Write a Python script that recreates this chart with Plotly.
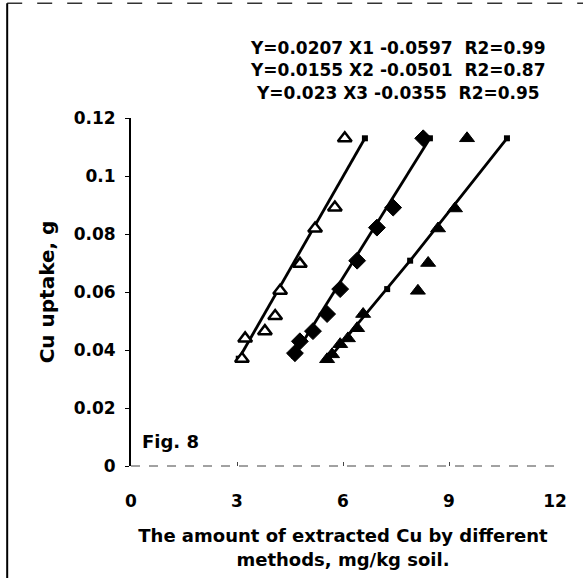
import plotly.graph_objects as go

# ---- data ----
s1_x = [3.14, 3.23, 3.79, 4.08, 4.22, 4.78, 5.21, 5.77, 6.05]
s1_y = [0.037, 0.044, 0.0465, 0.0517, 0.0604, 0.0697, 0.0819, 0.0891, 0.113]

s2_x = [4.64, 4.78, 5.15, 5.55, 5.92, 6.40, 6.96, 7.42, 8.27]
s2_y = [0.0389, 0.043, 0.0465, 0.0524, 0.061, 0.0708, 0.0822, 0.0891, 0.113]

s3_x = [5.55, 5.69, 5.92, 6.14, 6.40, 6.57, 8.12, 8.41, 8.69, 9.17, 9.51]
s3_y = [0.0368, 0.0385, 0.042, 0.044, 0.0475, 0.0524, 0.0604, 0.070, 0.0819, 0.0888, 0.113]

fit1_x = [3.05, 6.62]
fit1_y = [0.037, 0.113]
fit2_x = [4.62, 8.46]
fit2_y = [0.038, 0.113]
fit3_x = [5.6, 7.25, 7.9, 10.64]
fit3_y = [0.037, 0.061, 0.0708, 0.113]

equations = [
    "Y=0.0207 X1 -0.0597  R2=0.99",
    "Y=0.0155 X2 -0.0501  R2=0.87",
    "Y=0.023 X3 -0.0355  R2=0.95",
]
x_ticks = [0, 3, 6, 9, 12]
y_ticks = [0, 0.02, 0.04, 0.06, 0.08, 0.1, 0.12]
y_tick_text = ["0", "0.02", "0.04", "0.06", "0.08", "0.1", "0.12"]

FONT = "DejaVu Sans"

fig = go.Figure()

for fx, fy in [(fit1_x, fit1_y), (fit2_x, fit2_y), (fit3_x, fit3_y)]:
    fig.add_trace(go.Scatter(
        x=fx, y=fy, mode="lines+markers",
        line=dict(color="black", width=2.8),
        marker=dict(symbol="square", size=6, color="black"),
        showlegend=False, hoverinfo="skip"))

fig.add_trace(go.Scatter(
    x=s1_x, y=s1_y, mode="markers", showlegend=False,
    marker=dict(symbol="triangle-up", size=12, color="white",
                line=dict(color="black", width=2.5))))
fig.add_trace(go.Scatter(
    x=s2_x, y=s2_y, mode="markers", showlegend=False,
    marker=dict(symbol="diamond", size=13, color="black",
                line=dict(color="black", width=1))))
fig.add_trace(go.Scatter(
    x=s3_x, y=s3_y, mode="markers", showlegend=False,
    marker=dict(symbol="triangle-up", size=13, color="black",
                line=dict(color="black", width=1))))

eq_y = [1.20, 1.137, 1.071]
for txt, yy in zip(equations, eq_y):
    fig.add_annotation(text=txt, x=7.56, xref="x", y=yy, yref="paper",
                       showarrow=False, xanchor="center", yanchor="middle",
                       font=dict(family=FONT, size=17, color="black", weight="bold"))

fig.add_annotation(text="Fig. 8", x=0.25, xref="x", y=0.0085, yref="y",
                   showarrow=False, xanchor="left", yanchor="middle",
                   font=dict(family=FONT, size=18, color="black", weight="bold"))

# x axis drawn as a faint broken line (as in the scan)
fig.add_shape(type="line", xref="paper", yref="paper", x0=0, x1=1, y0=0, y1=0,
              line=dict(color="#444", width=1, dash="dash"))
# page frame
fig.add_shape(type="line", xref="paper", yref="paper", x0=-0.292, x1=1.07,
              y0=1.33, y1=1.33, line=dict(color="#333", width=1.5, dash="longdash"))
fig.add_shape(type="line", xref="paper", yref="paper", x0=-0.292, x1=-0.292,
              y0=1.33, y1=-0.33, line=dict(color="black", width=2))

fig.update_layout(
    width=583, height=578,
    margin=dict(l=131, r=28, t=118, b=112),
    paper_bgcolor="white", plot_bgcolor="white",
    font=dict(family=FONT, color="black", size=17, weight="bold"),
    xaxis=dict(range=[0, 12], tickvals=x_ticks, showgrid=False, zeroline=False,
               showline=False, ticks="inside", ticklen=4, tickcolor="#444",
               ticklabelstandoff=23,
               tickfont=dict(family=FONT, size=17, weight="bold"),
               title=dict(text="The amount of extracted Cu by different<br>methods, mg/kg soil.",
                          font=dict(family=FONT, size=18, weight="bold"), standoff=19)),
    yaxis=dict(range=[0, 0.12], tickvals=y_ticks, ticktext=y_tick_text,
               showgrid=False, zeroline=False,
               showline=True, linecolor="black", linewidth=2,
               ticks="outside", ticklen=4, tickcolor="black",
               ticklabelstandoff=6,
               tickfont=dict(family=FONT, size=17, weight="bold"),
               title=dict(text="Cu uptake, g",
                          font=dict(family=FONT, size=20, weight="bold"), standoff=14)),
)

fig.write_html("out.html")
